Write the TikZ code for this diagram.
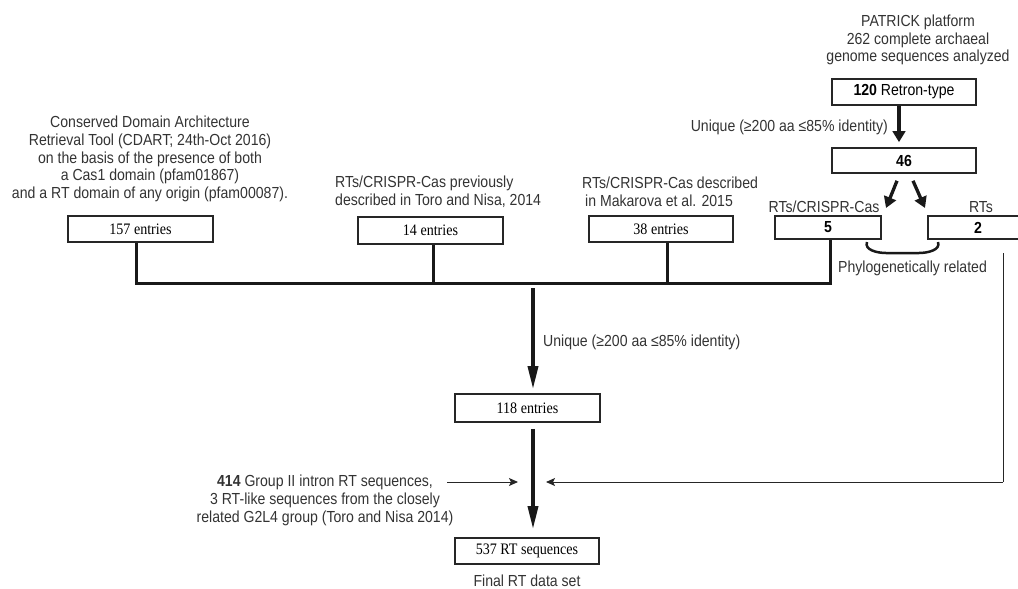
\documentclass[tikz,border=0pt]{standalone}
\usepackage{fontspec}
\setmainfont{Liberation Sans}[FakeStretch=0.88]
\newfontfamily\serifnum{Liberation Serif}[FakeStretch=0.88]
\usetikzlibrary{arrows.meta}
\begin{document}
\begin{tikzpicture}[x=1pt,y=-1pt,
  txt/.style={font=\fontsize{16}{17.8}\selectfont, text=black!80, inner sep=0pt},
  ebox/.style={draw=black!85, line width=1.6pt, inner sep=0pt, font=\serifnum\fontsize{16}{18}\selectfont},
  nbox/.style={draw=black!85, line width=1.6pt, inner sep=0pt, font=\fontsize{16}{18}\selectfont},
  bus/.style={line width=3pt, draw=black!90},
  bigarrow/.style={line width=3.5pt, draw=black!90, -{Triangle[length=23pt,width=10pt]}},
  medarrow/.style={line width=3.3pt, draw=black!90, -{Triangle[length=11pt,width=12.5pt]}},
  thinarrow/.style={line width=1pt, draw=black!85, -{Stealth[length=9pt,width=8pt,inset=2pt]}},
  thinline/.style={line width=1pt, draw=black!85},
  curve/.style={line width=2.5pt, draw=black!90}
]
\useasboundingbox (0,0) rectangle (1018,589);

% texts
\node[txt, align=center] (tCDART) at (150,159) {Conserved Domain Architecture\\Retrieval Tool (CDART; 24th-Oct 2016)\\on the basis of the presence of both\\a Cas1 domain (pfam01867)\\and a RT domain of any origin (pfam00087).};
\node[txt, align=left, anchor=west] (tToro) at (335,191.5) {RTs/CRISPR-Cas previously\\described in Toro and Nisa, 2014};
\node[txt, align=left, anchor=west] (tMak) at (582,191.5) {RTs/CRISPR-Cas described\\\hspace{3pt}in Makarova et al. 2015};
\node[txt, align=center] (tPat) at (918,40) {PATRICK platform\\262 complete archaeal\\genome sequences analyzed};
\node[txt, anchor=east] (tU1) at (888,127) {Unique (≥200 aa ≤85\% identity)};
\node[txt, anchor=west] (tU2) at (543,342) {Unique (≥200 aa ≤85\% identity)};
\node[txt] (tRC) at (824,207) {RTs/CRISPR-Cas};
\node[txt] (tRT) at (981,207) {RTs};
\node[txt, anchor=west] (tPhy) at (838,268) {Phylogenetically related};
\node[txt, align=center] (t414) at (325,500.5) {\textbf{414} Group II intron RT sequences,\\3 RT-like sequences from the closely\\related G2L4 group (Toro and Nisa 2014)};
\node[txt] (tFinal) at (527,580.5) {Final RT data set};

% boxes
\node[ebox, minimum width=145pt, minimum height=26pt] (b157) at (140.5,229) {157 entries};
\node[ebox, minimum width=145pt, minimum height=27pt] (b14) at (430.5,230.5) {14 entries};
\node[ebox, minimum width=144pt, minimum height=26pt] (b38) at (661,229) {38 entries};
\node[nbox, minimum width=106pt, minimum height=23pt] (b5) at (828,227.5) {\textbf{5}};
\node[nbox, minimum width=100pt, minimum height=23pt] (b2) at (978,227.5) {\textbf{2}};
\node[nbox, minimum width=144pt, minimum height=26pt] (b120) at (904,92) {\textbf{120} Retron-type};
\node[nbox, minimum width=144pt, minimum height=25pt] (b46) at (904,160.5) {\textbf{46}};
\node[ebox, minimum width=145pt, minimum height=28pt] (b118) at (527.5,408) {118 entries};
\node[ebox, minimum width=144pt, minimum height=26pt] (b537) at (527,551) {537 RT sequences};

% coordinates
\coordinate (busL) at (136,283);
\coordinate (busR) at (830,283);
\coordinate (m1) at (533,288);
\coordinate (s1) at (886,208);
\coordinate (s2) at (925,208);
\coordinate (c1) at (867,242);
\coordinate (c2) at (938,242);
\coordinate (rt) at (1003,253);
\coordinate (rc) at (1003,482);
\coordinate (jr) at (546,482);
\coordinate (la) at (447,482);
\coordinate (jl) at (518,482);

% bus
\draw[bus] (b157.south -| busL) -- (busL) -- (busR) -- (b5.south -| busR);
\draw[bus] ([xshift=2.5pt]b14.south) |- (busR);
\draw[bus] ([xshift=6pt]b38.south) |- (busR);

% main arrows
\draw[bigarrow, shorten >=4pt] (m1) -- (b118.north -| m1);
\draw[bigarrow, shorten <=6pt, shorten >=8pt] (b118.south -| m1) -- (b537.north -| m1);

% archaeal branch
\draw[medarrow, shorten >=5pt] ([xshift=-5pt]b120.south) -- ([xshift=-5pt]b46.north);
\draw[medarrow] ([xshift=-7pt,yshift=-7pt]b46.south) -- (s1);
\draw[medarrow] ([xshift=9pt,yshift=-7pt]b46.south) -- (s2);
\draw[curve] (c1) to[out=-110,in=180] (886,253) -- (919,253) to[out=0,in=-70] (c2);

% thin arrows
\draw[thinline] (rt) -- (rc);
\draw[thinarrow] (rc) -- (jr);
\draw[thinarrow] (la) -- (jl);
\end{tikzpicture}
\end{document}
